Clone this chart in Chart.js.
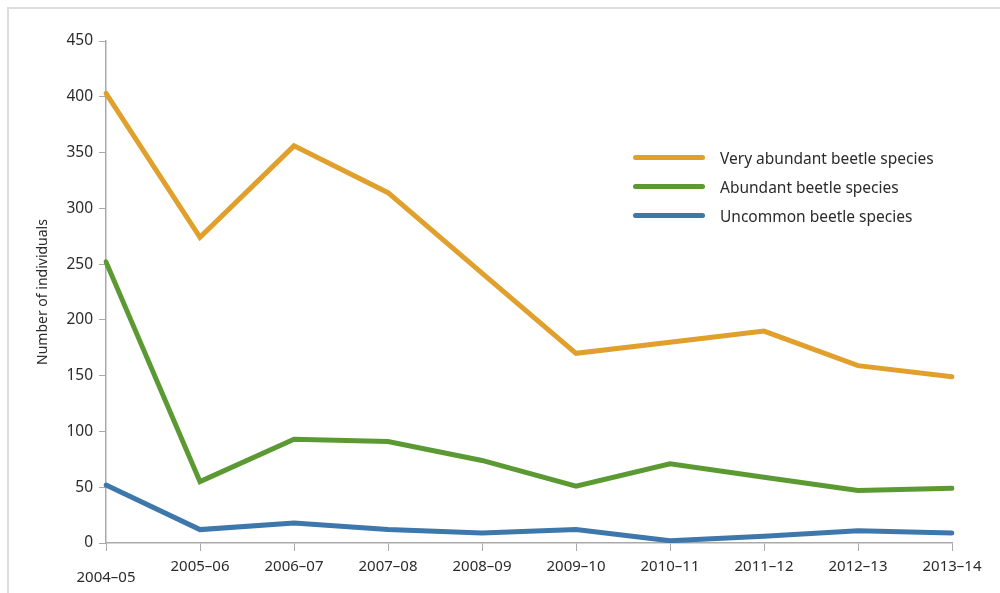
<!DOCTYPE html>
<html>
<head>
<meta charset="utf-8">
<script src="https://cdn.jsdelivr.net/npm/chart.js@4"></script>
<style>
  html, body { margin: 0; padding: 0; background: #fff; }
  #wrap { position: relative; width: 1000px; height: 593px; }
  #frame { position: absolute; left: 7px; top: 7px; width: 1000px; height: 600px;
           border-left: 2px solid #ddd; border-top: 2px solid #ddd; box-sizing: border-box; }
  #legend { position: absolute; left: 633px; top: 143px; font-family: "Noto Sans", sans-serif;
            font-size: 15.5px; color: #2b2b2b; }
  #legend .item { display: flex; align-items: center; height: 29px; }
  #legend .swatch { width: 72px; height: 5px; border-radius: 3px; margin-right: 15px; }
</style>
</head>
<body>
<div id="wrap">
  <div id="frame"></div>
  <canvas id="chart" width="1000" height="593"></canvas>
  <div id="legend"></div>
</div>
<script>
const years = ['2004–05', '2005–06', '2006–07', '2007–08', '2008–09', '2009–10', '2010–11', '2011–12', '2012–13', '2013–14'];
const veryAbundant = [403, 274, 356, 314, 242, 170, 180, 190, 159, 149];
const abundant = [252, 55, 93, 91, 74, 51, 71, 59, 47, 49];
const uncommon = [52, 12, 18, 12, 9, 12, 2, 6, 11, 9];
const yTicks = [0, 50, 100, 150, 200, 250, 300, 350, 400, 450];

const seriesNames = ['Very abundant beetle species', 'Abundant beetle species', 'Uncommon beetle species'];
const seriesColors = ['#e0a02b', '#5b9a33', '#3d77ab'];

const ctx = document.getElementById('chart').getContext('2d');
const chart = new Chart(ctx, {
    type: 'line',
    data: {
        labels: years,
        datasets: [veryAbundant, abundant, uncommon].map((d, i) => ({
            label: seriesNames[i],
            data: d,
            borderColor: seriesColors[i],
            borderWidth: 5,
            pointRadius: 0,
            fill: false,
            tension: 0,
            borderCapStyle: 'round',
        })),
    },
    options: {
        responsive: false,
        animation: false,
        layout: { padding: { top: 41, right: 48, bottom: 0, left: 0 } },
        plugins: { legend: { display: false }, tooltip: { enabled: false } },
        scales: {
            x: {
                offset: false,
                grid: { drawOnChartArea: false, drawTicks: true, tickLength: 8, color: '#aaa' },
                border: { color: '#aaa', width: 1.5 },
                ticks: {
                    color: '#2b2b2b',
                    maxRotation: 0,
                    autoSkip: false,
                    padding: 10,
                    font: { family: 'Noto Sans', size: 15, lineHeight: '11px' },
                    // first label sits a bit lower in the original
                    callback: (v, i) => i === 0 ? ['', years[i]] : years[i],
                },
                afterFit: (scale) => { scale.height = 50; },
            },
            y: {
                min: 0,
                max: 450,
                afterBuildTicks: (scale) => { scale.ticks = yTicks.map(v => ({ value: v })); },
                grid: { drawOnChartArea: false, drawTicks: true, tickLength: 7, color: '#aaa' },
                border: { color: '#aaa', width: 1.5 },
                ticks: {
                    color: '#2b2b2b',
                    padding: 6,
                    font: { family: 'Noto Sans', size: 15.5 },
                },
                title: {
                    display: true,
                    text: 'Number of individuals',
                    color: '#2b2b2b',
                    font: { family: 'Noto Sans', size: 14 },
                    padding: { top: 35, bottom: 0 },
                },
                afterFit: (scale) => { scale.width = 106; },
            },
        },
    },
});

// legend built from the datasets
const legend = document.getElementById('legend');
chart.data.datasets.forEach(ds => {
    const item = document.createElement('div');
    item.className = 'item';
    const sw = document.createElement('div');
    sw.className = 'swatch';
    sw.style.background = ds.borderColor;
    const txt = document.createElement('span');
    txt.textContent = ds.label;
    item.appendChild(sw);
    item.appendChild(txt);
    legend.appendChild(item);
});
</script>
</body>
</html>
